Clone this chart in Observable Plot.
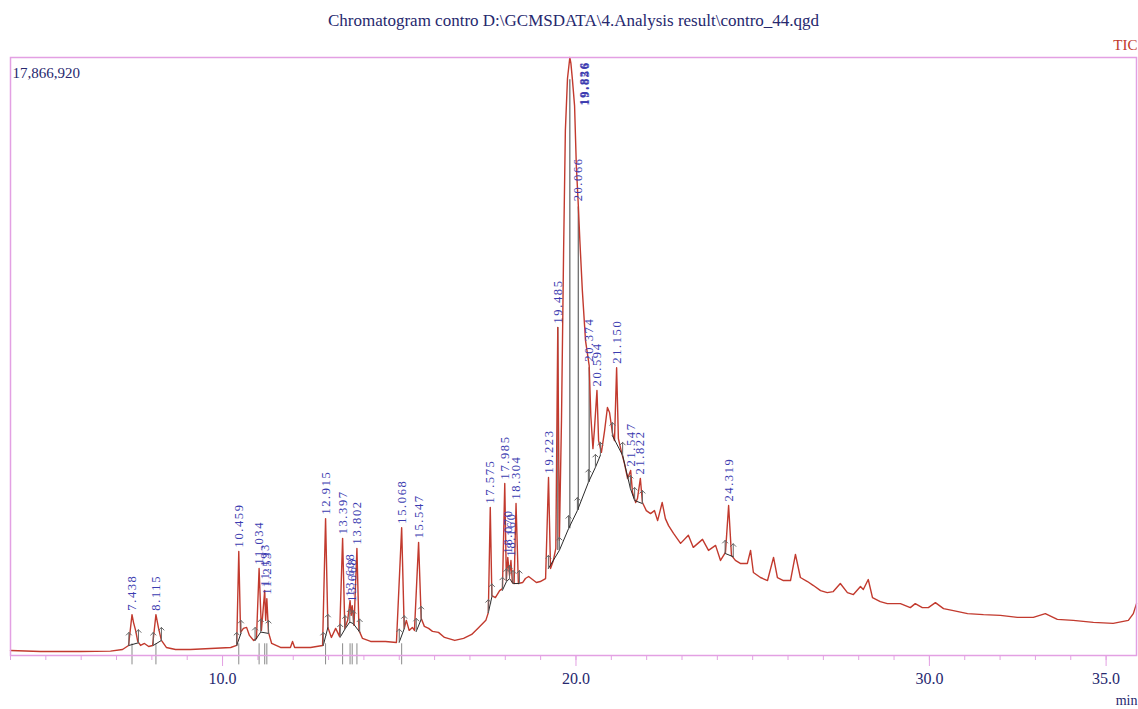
<!DOCTYPE html>
<html><head><meta charset="utf-8">
<script src="https://cdn.jsdelivr.net/npm/d3@7"></script>
<script src="https://cdn.jsdelivr.net/npm/@observablehq/plot@0.6"></script>
<style>body{margin:0;background:#fff;} svg{display:block}</style>
</head><body><div id="chart"></div>
<script>
const titleText = "Chromatogram contro D:\\GCMSDATA\\4.Analysis result\\contro_44.qgd";
const maxLabel = "17,866,920";
const seriesName = "TIC";
const xUnit = "min";
const xTickLabels = [10, 20, 30, 35];

// TIC trace: [retention time (min), intensity (millions of counts)]
const trace = [
[4.00,0.15],[4.85,0.12],[5.98,0.12],[6.83,0.13],[7.17,0.18],[7.34,0.30],[7.438,1.22],[7.48,0.99],[7.54,0.75],[7.60,0.42],[7.68,0.30],[7.79,0.36],[7.91,0.27],[8.02,0.30],[8.115,1.22],[8.19,0.81],[8.27,0.45],[8.41,0.24],[8.67,0.18],[9.09,0.18],[9.66,0.21],[10.23,0.24],[10.40,0.30],[10.459,3.11],[10.51,0.69],[10.59,0.81],[10.68,0.84],[10.76,0.60],[10.88,0.45],[10.96,0.51],[11.034,2.60],[11.10,0.75],[11.193,1.94],[11.22,1.05],[11.253,1.70],[11.30,0.69],[11.39,0.36],[11.64,0.24],[11.92,0.24],[11.98,0.42],[12.04,0.24],[12.49,0.24],[12.83,0.30],[12.915,4.09],[12.98,0.84],[13.08,0.54],[13.20,0.81],[13.31,0.57],[13.397,3.50],[13.46,0.81],[13.54,1.05],[13.608,1.64],[13.64,1.20],[13.668,1.49],[13.72,0.90],[13.802,3.20],[13.86,0.75],[13.96,0.51],[14.19,0.42],[14.61,0.42],[14.92,0.39],[15.068,3.82],[15.14,0.81],[15.20,1.05],[15.28,0.75],[15.37,0.84],[15.43,0.75],[15.547,3.38],[15.62,1.11],[15.71,0.87],[15.83,0.81],[15.94,0.72],[16.11,0.69],[16.28,0.54],[16.57,0.45],[16.82,0.51],[17.05,0.63],[17.25,0.84],[17.45,1.05],[17.52,1.28],[17.575,4.42],[17.62,1.79],[17.72,1.73],[17.84,1.94],[17.92,2.00],[17.985,5.14],[18.03,2.24],[18.07,2.93],[18.12,2.39],[18.16,2.84],[18.20,2.18],[18.25,2.15],[18.304,4.54],[18.37,2.15],[18.49,2.18],[18.57,2.30],[18.66,2.36],[18.77,2.27],[18.88,2.18],[18.99,2.21],[19.14,2.30],[19.223,5.32],[19.28,2.60],[19.36,2.84],[19.43,3.20],[19.485,9.80],[19.53,3.44],[19.59,7.02],[19.65,12.10],[19.70,15.69],[19.76,17.24],[19.826,17.867],[19.856,17.70],[19.90,17.20],[19.96,16.43],[20.01,14.64],[20.066,13.45],[20.11,12.40],[20.18,10.91],[20.27,9.41],[20.374,8.66],[20.42,7.17],[20.48,6.18],[20.52,6.72],[20.594,7.92],[20.64,6.42],[20.72,6.07],[20.81,6.72],[20.89,7.41],[20.95,7.26],[21.03,6.66],[21.09,6.42],[21.150,8.60],[21.20,6.48],[21.29,6.07],[21.37,5.74],[21.46,5.29],[21.547,5.53],[21.60,4.87],[21.69,4.57],[21.74,4.69],[21.822,5.29],[21.88,4.57],[21.99,4.33],[22.11,4.24],[22.22,4.33],[22.31,4.03],[22.44,4.57],[22.53,4.09],[22.62,3.88],[22.76,3.65],[22.96,3.35],[23.18,3.59],[23.32,3.23],[23.58,3.47],[23.75,3.14],[23.95,3.29],[24.09,2.84],[24.23,3.08],[24.319,4.48],[24.40,2.99],[24.51,2.84],[24.65,2.75],[24.85,2.75],[24.94,3.14],[25.02,2.48],[25.22,2.33],[25.42,2.24],[25.59,2.93],[25.70,2.33],[25.87,2.24],[26.07,2.24],[26.21,3.02],[26.35,2.33],[26.55,2.21],[26.72,2.09],[26.92,1.94],[27.11,1.88],[27.28,1.91],[27.48,2.15],[27.68,1.88],[27.85,1.82],[28.05,2.06],[28.13,1.97],[28.27,2.27],[28.39,1.73],[28.61,1.61],[28.81,1.55],[29.18,1.55],[29.46,1.43],[29.60,1.55],[29.80,1.43],[29.97,1.43],[30.17,1.58],[30.40,1.40],[30.68,1.34],[31.08,1.25],[31.53,1.22],[32.01,1.20],[32.49,1.14],[32.94,1.14],[33.28,1.25],[33.62,1.08],[34.07,1.05],[34.64,0.99],[35.20,0.96],[35.63,1.05],[35.77,1.25],[35.86,1.55]
];

// labelled peaks: [retention time, apex intensity, label]
const peaks = [
[7.438,1.22,"7.438"],[8.115,1.22,"8.115"],[10.459,3.11,"10.459"],[11.034,2.60,"11.034"],[11.193,1.94,"11.193"],[11.253,1.70,"11.253"],
[12.915,4.09,"12.915"],[13.397,3.50,"13.397"],[13.608,1.64,"13.608"],[13.668,1.49,"13.668"],[13.802,3.20,"13.802"],
[15.068,3.82,"15.068"],[15.547,3.38,"15.547"],[17.575,4.42,"17.575"],[17.985,5.14,"17.985"],[18.070,2.93,"18.070"],[18.160,2.84,"18.160"],
[18.304,4.54,"18.304"],[19.223,5.32,"19.223"],[19.485,9.80,"19.485"],[20.066,13.45,"20.066"],[20.374,8.66,"20.374"],
[20.594,7.92,"20.594"],[21.150,8.60,"21.150"],[21.547,5.53,"21.547"],[21.822,5.29,"21.822"],[24.319,4.48,"24.319"]
];
// peaks whose labels are pinned to the top of the frame
const topPeaks = [[19.826,"19.826"],[19.856,"19.856"]];

// integration baselines: [group, time, intensity]
const baselines = [
[1,7.35,0.30],[1,7.62,0.38],[2,8.04,0.30],[2,8.27,0.45],[3,10.40,0.30],[3,10.52,0.66],
[4,10.92,0.45],[4,11.08,0.70],[4,11.30,0.66],[5,12.85,0.30],[5,12.98,0.84],
[6,13.33,0.55],[6,13.47,0.80],[6,13.60,1.00],[6,13.70,0.95],[6,13.88,0.70],
[7,15.00,0.40],[7,15.14,0.80],[8,15.48,0.72],[8,15.62,1.08],[9,17.52,1.28],[9,17.62,1.75],
[10,17.92,1.95],[10,18.03,2.20],[10,18.12,2.30],[10,18.22,2.15],[10,18.40,2.15],
[11,19.22,2.60],[11,19.53,3.14],[11,19.79,3.79],[11,20.04,4.33],[11,20.35,5.17],[11,20.55,5.62],[11,20.69,5.98],
[12,21.03,6.57],[12,21.32,5.98],[12,21.54,4.99],[12,21.66,4.63],[12,21.88,4.54],
[13,24.22,3.05],[13,24.45,2.95]
];
// drop lines of the large peaks: [time, from, to]
const drops = [[19.485,3.14,9.80],[19.826,3.79,17.2],[20.066,4.33,13.40],[20.374,5.17,8.60]];
// peak markers crossing the time axis
const axisMarks = [7.438,8.115,10.459,11.034,11.193,11.253,12.915,13.397,13.608,13.668,13.802,15.068];

const navy = "#26286e", blue = "#3c3cb0", red = "#c23a2e", pink = "#e3a0e3";
const serif = "'Liberation Serif','Times New Roman',serif";

const plot = Plot.plot({
  width: 1138, height: 709,
  marginLeft: 10, marginRight: 2, marginTop: 57, marginBottom: 54,
  style: {fontFamily: serif, background: "#fff"},
  x: {domain: [4.0, 35.86], axis: null},
  y: {domain: [0, 17.86692], axis: null},
  marks: [
    Plot.axisX({ticks: d3.range(4, 36), tickSize: 5, tickFormat: () => "", stroke: pink}),
    Plot.axisX({ticks: xTickLabels, tickSize: 11, tickFormat: () => "", stroke: pink}),
    Plot.text(xTickLabels, {x: d => d, frameAnchor: "bottom", dy: 28, text: d => d.toFixed(1), fill: navy, fontSize: 16}),
    Plot.ruleX(axisMarks, {x: d => d, y1: 0.35, y2: -0.28, stroke: "#8a8a8a", strokeWidth: 1}),
    Plot.ruleX(drops, {x: d => d[0], y1: d => d[1], y2: d => d[2], stroke: "#6f6f6f", strokeWidth: 1.3}),
    Plot.line(trace, {x: d => d[0], y: d => d[1], stroke: red, strokeWidth: 1.4, curve: "linear"}),
    Plot.line(baselines, {x: d => d[1], y: d => d[2], z: d => d[0], stroke: "#2a2a2a", strokeWidth: 1}),
    Plot.vector(baselines, {x: d => d[1], y: d => d[2], length: 13, rotate: 0, anchor: "start", stroke: "#666", strokeWidth: 1, r: 3.5}),
    Plot.text(peaks, {x: d => d[0], y: d => d[1], text: d => d[2], rotate: -90, textAnchor: "start", dy: -4, fill: blue, fontSize: 12.5}),
    Plot.text(topPeaks, {x: d => d[0], frameAnchor: "top", text: d => d[1], rotate: -90, textAnchor: "end", dy: 4, dx: 9, fill: blue, fontSize: 12.5, fontWeight: "bold"}),
    Plot.frame({stroke: pink, strokeWidth: 1.5}),
    Plot.text([titleText], {frameAnchor: "top", dy: -37, fill: navy, fontSize: 17, lineAnchor: "middle"}),
    Plot.text([seriesName], {frameAnchor: "top-right", dy: -12, dx: 1, textAnchor: "end", lineAnchor: "middle", fill: "#c0392b", fontSize: 15}),
    Plot.text([maxLabel], {frameAnchor: "top-left", dx: 2, dy: 16, textAnchor: "start", lineAnchor: "middle", fill: navy, fontSize: 15}),
    Plot.text([xUnit], {frameAnchor: "bottom-right", dx: 1, dy: 45, textAnchor: "end", lineAnchor: "middle", fill: navy, fontSize: 14})
  ]
});
// letter-spacing for the rotated peak labels
d3.select(plot).selectAll("text").filter(function(){ return this.getAttribute("transform") && /rotate/.test(this.getAttribute("transform")); }).attr("letter-spacing", "1.6px");
document.getElementById("chart").appendChild(plot);
</script>
</body></html>
